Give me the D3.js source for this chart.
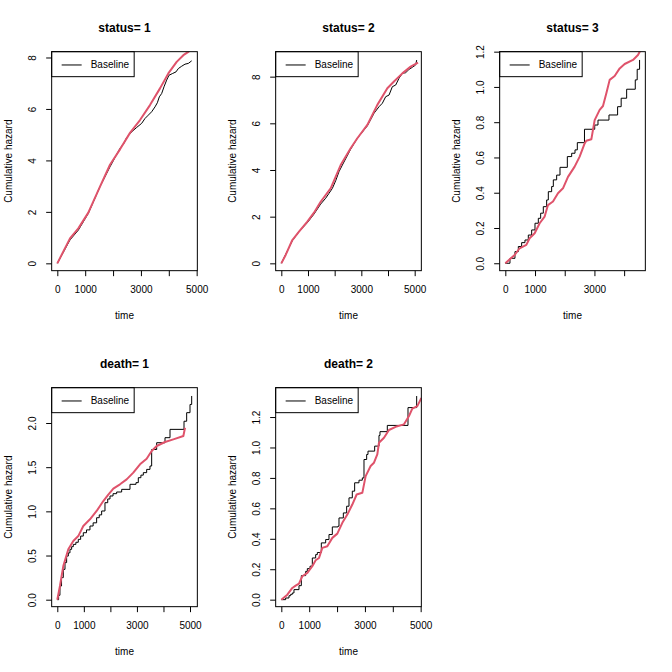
<!DOCTYPE html>
<html><head><meta charset="utf-8">
<script src="https://cdn.jsdelivr.net/npm/d3@7"></script>
<style>body{margin:0;background:#fff}text{font-family:"Liberation Sans",Arial,Helvetica,sans-serif}</style>
</head><body>
<script>
// ---- data ----
const titles = ["status= 1","status= 2","status= 3","death= 1","death= 2"];
const status1BaseT = [0,455,754,1112,1531,1890,2249,2400,2488,2667,2847,3026,3146,3266,3385,3505,3589,3660,3744,3828,3923,4007,4139,4258,4342,4462,4581,4701,4821];
const status1BaseH = [0,0.91,1.29,1.94,2.98,3.75,4.47,4.68,4.89,5.11,5.28,5.44,5.63,5.76,5.89,6.08,6.24,6.47,6.60,6.86,7.12,7.31,7.38,7.44,7.57,7.66,7.74,7.77,7.87];
const status1FitT = [0,455,754,1112,1531,1890,2249,2608,2967,3325,3684,3983,4282,4522,4701,4740];
const status1FitH = [0,0.97,1.36,1.97,2.98,3.83,4.43,5.07,5.57,6.15,6.80,7.38,7.83,8.09,8.22,8.25];
const status2BaseT = [0,413,663,975,1225,1475,1663,1788,1913,2038,2163,2288,2600,2850,3225,3475,3663,3788,3913,4038,4163,4288,4413,4538,4663,4788,4913,5038,5075];
const status2BaseH = [0,0.97,1.36,1.74,2.11,2.54,2.79,3.0,3.21,3.54,3.93,4.21,4.89,5.36,5.89,6.43,6.71,6.86,7.14,7.21,7.57,7.64,7.93,8.14,8.17,8.31,8.4,8.5,8.71];
const status2FitT = [0,163,413,663,975,1225,1475,1850,2225,2600,2850,3225,3600,3975,4225,4538,4850,5125];
const status2FitH = [0,0.36,1.0,1.36,1.79,2.17,2.64,3.21,4.21,4.93,5.36,5.93,6.79,7.5,7.79,8.14,8.43,8.6];
const status3BaseT = [0,157,325,438,550,662,774,887,999,1111,1190,1279,1392,1448,1560,1616,1728,1841,2088,2234,2346,2424,2665,3010,3120,3490,3780,3900,4085,4375,4440,4520];
const status3BaseH = [0,0.028,0.066,0.095,0.117,0.132,0.16,0.189,0.227,0.255,0.284,0.321,0.359,0.406,0.435,0.473,0.50,0.544,0.605,0.624,0.643,0.684,0.76,0.784,0.812,0.841,0.888,0.936,0.987,1.04,1.10,1.153];
const status3FitT = [0,314,482,707,819,988,1156,1324,1436,1605,1773,1941,2110,2334,2503,2671,2727,2896,3008,3176,3288,3401,3513,3681,3850,4018,4299,4466,4556];
const status3FitH = [0,0.047,0.085,0.104,0.142,0.17,0.227,0.265,0.33,0.35,0.397,0.425,0.49,0.548,0.605,0.68,0.695,0.703,0.812,0.87,0.892,0.964,1.04,1.062,1.105,1.13,1.153,1.181,1.209];
const death1BaseT = [0,50,100,160,226,290,352,415,477,540,603,700,791,880,980,1100,1231,1350,1482,1580,1671,1796,1900,1985,2100,2236,2425,2739,2965,3052,3150,3241,3367,3492,3555,3744,4058,4246,4774,4874,5000,5063];
const death1BaseH = [0,0.05,0.155,0.25,0.343,0.42,0.494,0.53,0.57,0.60,0.626,0.65,0.683,0.72,0.758,0.79,0.834,0.87,0.928,0.96,1.004,1.098,1.14,1.174,1.20,1.219,1.249,1.306,1.325,1.381,1.41,1.438,1.475,1.513,1.70,1.777,1.834,1.928,2.02,2.117,2.21,2.306];
const death1FitT = [0,100,226,415,603,791,980,1231,1482,1734,1922,2111,2362,2613,2864,3116,3367,3555,3744,4058,4372,4749,4812];
const death1FitH = [0,0.155,0.38,0.57,0.664,0.72,0.834,0.91,1.004,1.117,1.19,1.257,1.306,1.362,1.438,1.532,1.596,1.683,1.74,1.785,1.815,1.853,1.947];
const death2BaseT = [0,155,275,335,395,454,634,718,873,933,1029,1112,1232,1292,1435,1591,1710,1830,2033,2069,2225,2344,2428,2547,2631,2787,2906,2966,3062,3110,3349,3504,3540,3803,4545,4856];
const death2BaseH = [0,0.011,0.026,0.035,0.044,0.066,0.092,0.158,0.186,0.204,0.22,0.274,0.296,0.31,0.373,0.395,0.428,0.478,0.483,0.537,0.570,0.614,0.669,0.713,0.768,0.785,0.80,0.921,0.954,0.976,1.009,1.079,1.104,1.145,1.262,1.338];
const death2FitT = [0,215,395,514,634,753,933,1112,1232,1352,1471,1650,1830,2009,2189,2368,2547,2703,2906,3026,3205,3325,3444,3504,3684,3863,4102,4401,4581,4700,4880,5000,5030];
const death2FitH = [0,0.033,0.077,0.092,0.105,0.154,0.176,0.22,0.259,0.274,0.34,0.351,0.406,0.434,0.505,0.559,0.625,0.691,0.702,0.812,0.878,0.90,0.954,1.031,1.064,1.115,1.136,1.152,1.207,1.255,1.272,1.316,1.325];
const xTicksA = [0,1000,2000,3000,4000,5000];
const xTicksB = [0,1000,2000,3000,4000];
const xLabelsA = [0,1000,3000,5000];
const xLabelsB = [0,1000,3000];
const yTicks1 = [0,2,4,6,8];
const yTicks3 = [0,0.2,0.4,0.6,0.8,1.0,1.2];
const yTicks4 = [0,0.5,1.0,1.5,2.0];
const xDomains = [[-203,5024],[-212,5250],[-190,4714],[-212,5276],[-203,5024]];
const yDomains = [[-0.285,8.226],[-0.314,9.07],[-0.042,1.2],[-0.079,2.40],[-0.046,1.393]];

// ---- layout ----
const colX = [51.67, 275.67, 499.67], rowY = [51.67, 387.67], boxW = 145.67, boxH = 219;
const panels = [
  {bt:status1BaseT,bh:status1BaseH,ft:status1FitT,fh:status1FitH,step:false,xt:xTicksA,xl:xLabelsA,yt:yTicks1,fmt:d3.format("d")},
  {bt:status2BaseT,bh:status2BaseH,ft:status2FitT,fh:status2FitH,step:false,xt:xTicksA,xl:xLabelsA,yt:yTicks1,fmt:d3.format("d")},
  {bt:status3BaseT,bh:status3BaseH,ft:status3FitT,fh:status3FitH,step:true,xt:xTicksB,xl:xLabelsB,yt:yTicks3,fmt:d3.format(".1f")},
  {bt:death1BaseT,bh:death1BaseH,ft:death1FitT,fh:death1FitH,step:true,xt:xTicksA,xl:xLabelsA,yt:yTicks4,fmt:d3.format(".1f")},
  {bt:death2BaseT,bh:death2BaseH,ft:death2FitT,fh:death2FitH,step:true,xt:xTicksA,xl:xLabelsA,yt:yTicks3,fmt:d3.format(".1f")}
];
const svg = d3.select("body").append("svg").attr("width",672).attr("height",672);
panels.forEach((p,i)=>{
  const col = i%3, row = Math.floor(i/3);
  const x0 = colX[col], y0 = rowY[row];
  const x = d3.scaleLinear().domain(xDomains[i]).range([x0, x0+boxW]);
  const y = d3.scaleLinear().domain(yDomains[i]).range([y0+boxH, y0]);
  const g = svg.append("g");
  svg.append("clipPath").attr("id","clip"+i).append("rect").attr("x",x0).attr("y",y0).attr("width",boxW).attr("height",boxH);
  const plot = g.append("g").attr("clip-path","url(#clip"+i+")");
  const line = d3.line().x(d=>x(d[0])).y(d=>y(d[1]));
  plot.append("path").datum(d3.zip(p.bt,p.bh))
    .attr("d", line.curve(p.step?d3.curveStepAfter:d3.curveLinear))
    .attr("fill","none").attr("stroke","#000").attr("stroke-width",1);
  plot.append("path").datum(d3.zip(p.ft,p.fh))
    .attr("d", d3.line().x(d=>x(d[0])).y(d=>y(d[1])))
    .attr("fill","none").attr("stroke","#DF536B").attr("stroke-width",2).attr("stroke-linejoin","round");
  // box
  g.append("rect").attr("x",x0).attr("y",y0).attr("width",boxW).attr("height",boxH)
    .attr("fill","none").attr("stroke","#000").attr("stroke-width",1);
  // x axis
  const ax = g.append("g").attr("transform",`translate(0,${y0+boxH})`)
    .call(d3.axisBottom(x).tickValues(p.xt).tickSize(5.5).tickFormat(d=>p.xl.includes(d)?d:""));
  ax.select(".domain").remove();
  ax.selectAll("line").attr("stroke","#000");
  ax.selectAll("text").attr("y",19.3).attr("dy",null).attr("dominant-baseline","central")
    .attr("font-size",10).attr("fill","#000");
  // y axis
  const ay = g.append("g").attr("transform",`translate(${x0},0)`)
    .call(d3.axisLeft(y).tickValues(p.yt).tickSize(5.5).tickFormat(p.fmt));
  ay.select(".domain").remove();
  ay.selectAll("line").attr("stroke","#000");
  ay.selectAll("text").attr("x",null).attr("dy",null)
    .attr("transform","translate(-19.3,0) rotate(-90)").attr("text-anchor","middle")
    .attr("dominant-baseline","central").attr("font-size",10).attr("fill","#000");
  ax.attr("font-family",null); ay.attr("font-family",null);
  // labels
  g.append("text").attr("x",x0+boxW/2).attr("y",y0-19.67).attr("text-anchor","middle")
    .attr("font-size",12).attr("font-weight","bold").text(titles[i]);
  g.append("text").attr("x",x0+boxW/2).attr("y",y0+boxH+48.3).attr("text-anchor","middle")
    .attr("font-size",10).text("time");
  g.append("text").attr("transform",`translate(${x0-39.67},${y0+boxH/2}) rotate(-90)`).attr("text-anchor","middle")
    .attr("font-size",10).text("Cumulative hazard");
  // legend
  const lg = g.append("g");
  lg.append("rect").attr("x",x0).attr("y",y0).attr("width",82.5).attr("height",25)
    .attr("fill","none").attr("stroke","#000").attr("stroke-width",1);
  lg.append("line").attr("x1",x0+10).attr("x2",x0+30).attr("y1",y0+13.3).attr("y2",y0+13.3)
    .attr("stroke","#000").attr("stroke-width",1);
  lg.append("text").attr("x",x0+39).attr("y",y0+13.3).attr("dominant-baseline","central")
    .attr("font-size",10).text("Baseline");
});
</script>
</body></html>
